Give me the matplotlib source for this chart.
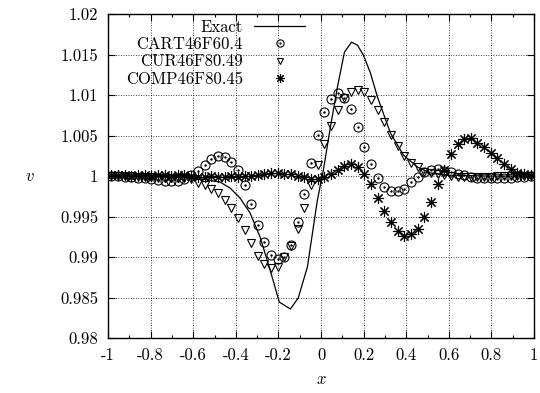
import numpy as np
import matplotlib
matplotlib.use('Agg')
import matplotlib.pyplot as plt
from matplotlib.ticker import FixedLocator, FuncFormatter, MultipleLocator

plt.rcParams['font.family'] = ['cmr10', 'DejaVu Serif']
plt.rcParams['mathtext.fontset'] = 'cm'
plt.rcParams['axes.unicode_minus'] = False
plt.rcParams['font.size'] = 12

# cell centres of the 64-cell grid
x = [-0.984, -0.953, -0.922, -0.891, -0.859, -0.828, -0.797, -0.766, -0.734, -0.703,
     -0.672, -0.641, -0.609, -0.578, -0.547, -0.516, -0.484, -0.453, -0.422, -0.391,
     -0.359, -0.328, -0.297, -0.266, -0.234, -0.203, -0.172, -0.141, -0.109, -0.078,
     -0.047, -0.016, 0.016, 0.047, 0.078, 0.109, 0.141, 0.172, 0.203, 0.234,
     0.266, 0.297, 0.328, 0.359, 0.391, 0.422, 0.453, 0.484, 0.516, 0.547,
     0.578, 0.609, 0.641, 0.672, 0.703, 0.734, 0.766, 0.797, 0.828, 0.859,
     0.891, 0.922, 0.953, 0.984]

cart = [1.0000, 1.0000, 0.9999, 0.9999, 0.9998, 0.9997, 0.9996, 0.9995, 0.9994, 0.9994,
        0.9994, 0.9996, 1.0001, 1.0006, 1.0014, 1.0021, 1.0025, 1.0024, 1.0017, 1.0007,
        0.9989, 0.9965, 0.9940, 0.9919, 0.9903, 0.9898, 0.9900, 0.9915, 0.9943, 0.9978,
        1.0016, 1.0051, 1.0079, 1.0095, 1.0103, 1.0096, 1.0083, 1.0061, 1.0036, 1.0015,
        0.9998, 0.9986, 0.9982, 0.9982, 0.9984, 0.9993, 0.9999, 1.0005, 1.0007, 1.0009,
        1.0006, 1.0005, 1.0003, 1.0001, 0.9999, 0.9998, 0.9997, 0.9997, 0.9997, 0.9998,
        0.9998, 0.9999, 0.9999, 1.0000]

cur = [1.0000, 1.0000, 1.0000, 1.0000, 0.9999, 0.9999, 0.9999, 0.9998, 0.9998, 0.9998,
       0.9998, 0.9997, 0.9996, 0.9992, 0.9989, 0.9984, 0.9979, 0.9970, 0.9960, 0.9948,
       0.9933, 0.9917, 0.9901, 0.9891, 0.9886, 0.9888, 0.9900, 0.9914, 0.9935, 0.9960,
       0.9989, 1.0014, 1.0040, 1.0062, 1.0081, 1.0097, 1.0104, 1.0106, 1.0104, 1.0094,
       1.0081, 1.0067, 1.0051, 1.0037, 1.0025, 1.0016, 1.0011, 1.0005, 1.0004, 1.0002,
       1.0001, 1.0000, 0.9999, 0.9999, 0.9999, 0.9999, 0.9999, 0.9999, 1.0000, 1.0000,
       1.0000, 1.0000, 1.0000, 1.0000]

comp = [1.0001, 1.0001, 1.0001, 1.0000, 1.0001, 1.0001, 1.0000, 1.0001, 1.0001, 1.0000,
        1.0001, 1.0001, 1.0000, 0.9999, 0.9999, 1.0000, 0.9999, 0.9999, 1.0000, 0.9999,
        1.0000, 1.0000, 1.0001, 1.0002, 1.0004, 1.0004, 1.0003, 1.0002, 1.0000, 0.9999,
        0.9996, 0.9996, 0.9999, 1.0002, 1.0007, 1.0012, 1.0015, 1.0011, 1.0002, 0.9990,
        0.9973, 0.9957, 0.9943, 0.9932, 0.9926, 0.9928, 0.9935, 0.9949, 0.9968, 0.9990,
        1.0007, 1.0027, 1.0040, 1.0046, 1.0047, 1.0041, 1.0036, 1.0028, 1.0022, 1.0015,
        1.0009, 1.0004, 1.0002, 1.0001]

x_exact = [-1.0, -0.8, -0.7, -0.615, -0.55, -0.474, -0.427, -0.380, -0.333, -0.286,
           -0.239, -0.196, -0.144, -0.107, -0.064, -0.017, 0.011, 0.044, 0.077, 0.110,
           0.143, 0.171, 0.199, 0.232, 0.265, 0.326, 0.387, 0.453, 0.514, 0.608, 0.8, 1.0]
v_exact = [1.0, 1.0, 0.99995, 0.99975, 0.9996, 0.99926, 0.99852, 0.99728, 0.99543, 0.99247,
           0.9884, 0.98444, 0.98358, 0.98494, 0.98877, 0.99704, 1.00074, 1.00605, 1.01099, 1.01531,
           1.01654, 1.01617, 1.01494, 1.01272, 1.00975, 1.00531, 1.00259, 1.00111, 1.00037, 1.0001,
           1.0, 1.0]

labels = ['Exact', 'CART46F60.4', 'CUR46F80.49', 'COMP46F80.45']
x_ticks = [-1, -0.8, -0.6, -0.4, -0.2, 0, 0.2, 0.4, 0.6, 0.8, 1]
y_ticks = [0.98, 0.985, 0.99, 0.995, 1, 1.005, 1.01, 1.015, 1.02]

fig = plt.figure(figsize=(5.4, 3.93), dpi=100)
ax = fig.add_axes([0.2, 0.14, 0.789, 0.824])

star = (8, 2, 0)
h_exact, = ax.plot(x_exact, v_exact, color='black', lw=0.9)
h_c1, = ax.plot(x, cart, ls='none', marker='o', ms=6.5, mfc='none', mec='black', mew=0.8)
h_c2, = ax.plot(x, cart, ls='none', marker='.', ms=1.5, color='black')
h_cur, = ax.plot(x, cur, ls='none', marker='v', ms=6, mfc='none', mec='black', mew=0.8)
h_comp, = ax.plot(x, comp, ls='none', marker=star, ms=8, color='black', mew=0.8)

ax.set_xlim(-1, 1)
ax.set_ylim(0.98, 1.02)
ax.xaxis.set_major_locator(FixedLocator(x_ticks))
ax.xaxis.set_minor_locator(MultipleLocator(0.1))
ax.yaxis.set_major_locator(FixedLocator(y_ticks))
ax.xaxis.set_major_formatter(FuncFormatter(lambda v, p: '%g' % round(v, 3)))
ax.yaxis.set_major_formatter(FuncFormatter(lambda v, p: '%g' % round(v, 4)))
ax.tick_params(which='both', direction='in', top=True, right=True, width=0.8)
ax.tick_params(which='major', length=5, pad=7)
ax.tick_params(which='minor', length=2.5)
ax.grid(True, which='major', color='black', ls=(0, (1, 2)), lw=0.6)
for s in ax.spines.values():
    s.set_linewidth(1.0)

ax.set_xlabel('$x$', fontsize=12, labelpad=6)
ax.set_ylabel('$v$', fontsize=12, rotation=0, labelpad=22, va='center')

ax.legend([h_exact, (h_c1, h_c2), h_cur, h_comp], labels,
          loc='upper right', bbox_to_anchor=(307 / 540, 1 - 17 / 393),
          bbox_transform=fig.transFigure, frameon=False, markerfirst=False,
          markerscale=0.8, handlelength=3.0, handletextpad=0.7,
          labelspacing=0.12, borderpad=0.15, borderaxespad=0, fontsize=12)

plt.savefig('out.png', dpi=100)
